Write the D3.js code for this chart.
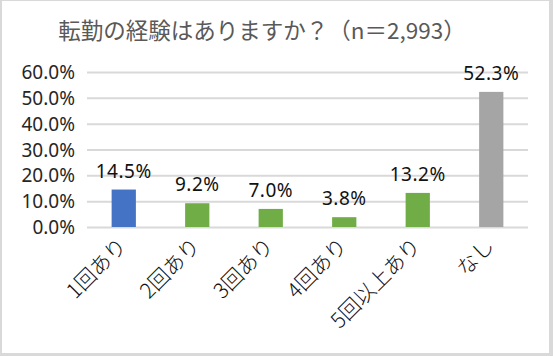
<!DOCTYPE html>
<html><head><meta charset="utf-8">
<script src="https://cdn.jsdelivr.net/npm/d3@7"></script>
<style>body{margin:0;background:#fff}svg{display:block}</style>
</head><body>
<svg id="c" width="553" height="356"></svg>
<script>
const title = "転勤の経験はありますか？（n＝2,993）";
const categories = ["1回あり","2回あり","3回あり","4回あり","5回以上あり","なし"];
const values = [14.5, 9.2, 7.0, 3.8, 13.2, 52.3];
const barColors = ["#4472C4","#70AD47","#70AD47","#70AD47","#70AD47","#A5A5A5"];
const yTicks = [0,10,20,30,40,50,60];

const svg = d3.select("#c");
const font = "'Noto Sans', 'Noto Sans CJK JP', sans-serif";
const cjk = "'Noto Sans CJK JP', sans-serif";
svg.append("rect").attr("x",0).attr("y",0).attr("width",553).attr("height",356).attr("fill","#d9d9d9");
svg.append("rect").attr("x",2).attr("y",1).attr("width",547).attr("height",352).attr("fill","#fff");

const x = d3.scaleBand().domain(categories).range([87,528]).paddingInner(0.67).paddingOuter(0.335);
const y = d3.scaleLinear().domain([0,60]).range([227,72]);

svg.append("text").attr("x",262).attr("y",39).attr("text-anchor","middle")
  .attr("font-family",cjk).attr("font-size",22.5).attr("fill","#595959").text(title);

const yAxis = d3.axisLeft(y).tickValues(yTicks).tickSize(-(528-87)).tickFormat(d=>d.toFixed(1)+"%").tickPadding(12);
const ga = svg.append("g").attr("transform","translate(87,0)").call(yAxis);
ga.select(".domain").remove();
ga.selectAll(".tick line").attr("stroke","#d9d9d9").attr("stroke-width",2);
ga.selectAll(".tick text").attr("font-family",font).attr("font-size",19).attr("fill","#262626").attr("dy","0.35em");

svg.selectAll("rect.bar").data(values).enter().append("rect").attr("class","bar")
  .attr("x",(d,i)=>x(categories[i])).attr("width",x.bandwidth())
  .attr("y",d=>y(d)).attr("height",d=>y(0)-y(d)).attr("fill",(d,i)=>barColors[i]);

svg.selectAll("text.val").data(values).enter().append("text").attr("class","val")
  .attr("x",(d,i)=>x(categories[i])+x.bandwidth()/2).attr("y",d=>y(d)-12)
  .attr("text-anchor","middle").attr("font-family",font).attr("font-size",19).attr("fill","#111")
  .attr("letter-spacing",0.5)
  .text(d=>d.toFixed(1)+"%");

svg.selectAll("text.cat").data(categories).enter().append("text").attr("class","cat")
  .attr("transform",d=>`translate(${x(d)+x.bandwidth()/2-1},242) rotate(-45)`)
  .attr("text-anchor","end").attr("dy","0.35em")
  .attr("font-family",cjk).attr("font-size",21).attr("font-weight",300).attr("fill","#111")
  .text(d=>d);
</script>
</body></html>
